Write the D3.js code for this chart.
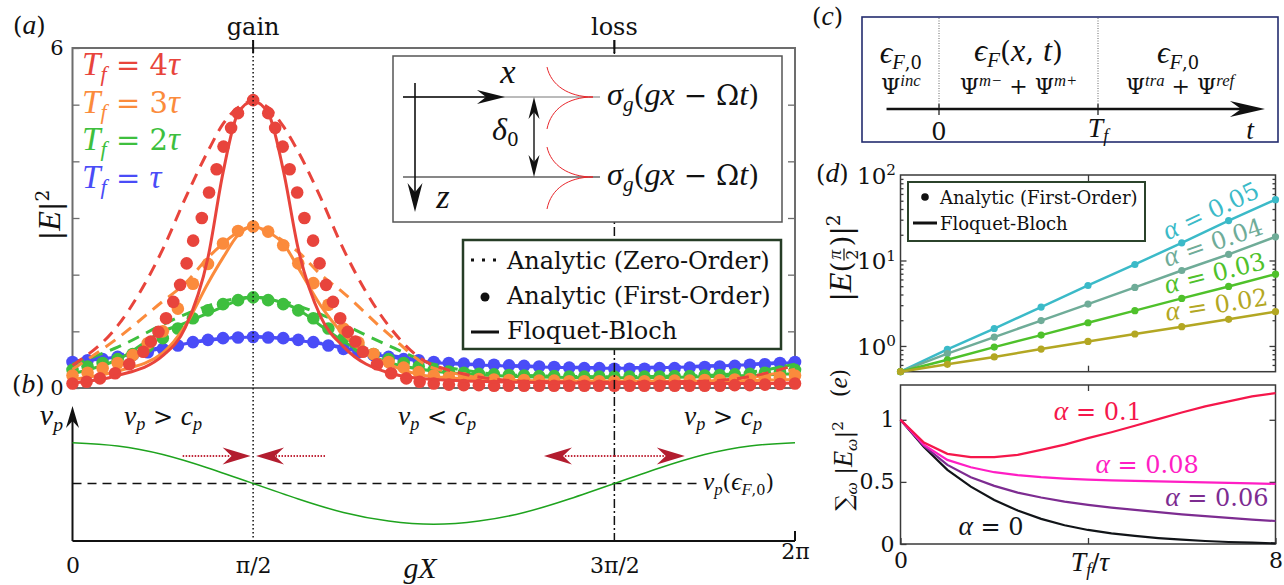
<!DOCTYPE html>
<html>
<head>
<meta charset="utf-8">
<script src="https://cdn.jsdelivr.net/npm/d3@7"></script>
<style>
  body { margin: 0; background: #fff; }
  text { font-family: "DejaVu Serif", "Liberation Serif", serif; }
</style>
</head>
<body>
<svg id="fig" width="1284" height="585"></svg>
<script>
// ---------- panel (a): |E|^2 against gX (gX in units of pi) ----------
const tfNames = ['τ', '2τ', '3τ', '4τ'];
const tfColors = ['#4a4cf7', '#3ebf3e', '#fb8b3c', '#e8443c'];

// sample points of the analytic zero-order (dashed) and Floquet-Bloch (solid) curves
const lineX = [0, 0.125, 0.25, 0.3125, 0.375, 0.4167, 0.4583, 0.5, 0.5417, 0.5833, 0.625, 0.6875, 0.75, 0.875, 1.0, 1.25, 1.5, 1.75, 1.875, 2.0];

const zeroOrder1 = [0.47, 0.58, 0.72, 0.79, 0.85, 0.88, 0.9, 0.91, 0.9, 0.88, 0.85, 0.79, 0.72, 0.58, 0.47, 0.39, 0.36, 0.39, 0.42, 0.47];
const zeroOrder2 = [0.42, 0.72, 1.12, 1.3, 1.45, 1.53, 1.58, 1.6, 1.58, 1.53, 1.45, 1.3, 1.12, 0.75, 0.42, 0.22, 0.2, 0.22, 0.28, 0.42];
const zeroOrder3 = [0.33, 0.88, 1.53, 1.85, 2.3, 2.55, 2.75, 2.85, 2.75, 2.6, 2.4, 2.0, 1.68, 0.95, 0.35, 0.12, 0.1, 0.12, 0.18, 0.33];
const zeroOrder4 = [0.4, 1.1, 2.45, 3.35, 4.18, 4.66, 4.95, 5.06, 4.95, 4.62, 4.17, 3.35, 2.45, 1.1, 0.4, 0.12, 0.1, 0.12, 0.2, 0.4];

const floquet1 = [0.45, 0.55, 0.7, 0.78, 0.84, 0.87, 0.89, 0.9, 0.89, 0.87, 0.84, 0.78, 0.7, 0.55, 0.45, 0.38, 0.35, 0.38, 0.41, 0.45];
const floquet2 = [0.25, 0.5, 1.0, 1.15, 1.32, 1.43, 1.55, 1.6, 1.57, 1.5, 1.38, 1.1, 0.82, 0.45, 0.3, 0.2, 0.18, 0.2, 0.22, 0.25];
const floquet3 = [0.15, 0.3, 0.62, 1.1, 1.85, 2.3, 2.7, 2.85, 2.75, 2.55, 2.12, 1.45, 0.95, 0.42, 0.2, 0.13, 0.12, 0.12, 0.13, 0.15];
const floquet4 = [0.09, 0.22, 0.57, 1.07, 2.3, 3.8, 4.85, 5.06, 4.85, 3.85, 2.45, 1.25, 0.73, 0.27, 0.15, 0.1, 0.08, 0.08, 0.08, 0.09];

// first-order analytic points, one every pi/24
const dotX = d3.range(49).map(k => k / 24);
const dots1 = [0.46, 0.49, 0.51, 0.55, 0.58, 0.63, 0.69, 0.75, 0.81, 0.85, 0.88, 0.89, 0.9,
  0.89, 0.88, 0.85, 0.81, 0.75, 0.69, 0.63, 0.58, 0.55, 0.51, 0.49, 0.46,
  0.44, 0.43, 0.42, 0.41, 0.4, 0.39, 0.38, 0.37, 0.36, 0.35, 0.35, 0.34, 0.34, 0.34, 0.35, 0.35, 0.36, 0.37, 0.38, 0.39, 0.41, 0.42, 0.44, 0.46];
const dots2 = [0.32, 0.38, 0.44, 0.51, 0.6, 0.73, 0.88, 1.05, 1.23, 1.37, 1.48, 1.55, 1.6,
  1.55, 1.48, 1.37, 1.23, 1.05, 0.88, 0.73, 0.6, 0.51, 0.44, 0.38, 0.32,
  0.29, 0.27, 0.25, 0.24, 0.23, 0.22, 0.21, 0.21, 0.2, 0.2, 0.2, 0.2, 0.2, 0.2, 0.2, 0.21, 0.21, 0.22, 0.23, 0.24, 0.25, 0.27, 0.29, 0.32];
const dots3 = [0.22, 0.27, 0.35, 0.44, 0.58, 0.79, 1.0, 1.4, 1.84, 2.19, 2.55, 2.77, 2.85,
  2.76, 2.52, 2.2, 1.85, 1.47, 1.05, 0.8, 0.6, 0.46, 0.36, 0.28, 0.22,
  0.19, 0.17, 0.16, 0.15, 0.14, 0.14, 0.13, 0.13, 0.12, 0.12, 0.12, 0.12, 0.12, 0.12, 0.12, 0.13, 0.13, 0.14, 0.14, 0.15, 0.16, 0.17, 0.19, 0.22];
// Tf = 4tau: denser points on the steep flanks
const dots4 = [[0, 0.08], [0.039, 0.11], [0.076, 0.17], [0.118, 0.26], [0.157, 0.42], [0.196, 0.64], [0.217, 0.82],
  [0.238, 0.99], [0.259, 1.23], [0.279, 1.52], [0.298, 1.82], [0.316, 2.2], [0.334, 2.6], [0.358, 3.0], [0.378, 3.45],
  [0.399, 3.86], [0.418, 4.26], [0.439, 4.59], [0.458, 4.85], [0.5, 5.08], [0.542, 4.85], [0.561, 4.59], [0.582, 4.26],
  [0.601, 3.86], [0.622, 3.45], [0.642, 3.0], [0.666, 2.6], [0.684, 2.2], [0.702, 1.82], [0.721, 1.52], [0.741, 1.23],
  [0.762, 0.99], [0.783, 0.82], [0.804, 0.64], [0.843, 0.42], [0.882, 0.26], [0.924, 0.17], [0.961, 0.11], [1.0, 0.08],
  [1.042, 0.06], [1.083, 0.05], [1.125, 0.05], [1.167, 0.04], [1.208, 0.04], [1.25, 0.04], [1.292, 0.04], [1.333, 0.04],
  [1.375, 0.04], [1.417, 0.04], [1.458, 0.04], [1.5, 0.04], [1.542, 0.04], [1.583, 0.04], [1.625, 0.04], [1.667, 0.04],
  [1.708, 0.04], [1.75, 0.04], [1.792, 0.04], [1.833, 0.05], [1.875, 0.05], [1.917, 0.06], [1.958, 0.07], [2.0, 0.08]];

// ---------- panel (b): phase velocity ----------
const bX = [0, 0.125, 0.25, 0.375, 0.5, 0.625, 0.75, 0.875, 1, 1.125, 1.25, 1.375, 1.5, 1.625, 1.75, 1.875, 2];
const vpValues = [1, 0.92, 0.71, 0.38, 0, -0.38, -0.71, -0.92, -1, -0.92, -0.71, -0.38, 0, 0.38, 0.71, 0.92, 1];
const bTicks = [0, 0.5, 1.5, 2];
const bTickLabels = ['0', 'π/2', '3π/2', '2π'];
const bArrows = [[0.305, 0.493], [0.699, 0.508], [1.5, 1.305], [1.5, 1.695]];

// ---------- panel (d): |E(pi/2)|^2 vs Tf/tau ----------
const dT = [0, 1, 2, 3, 4, 5, 6, 7, 8];
const dAlpha = ['0.05', '0.04', '0.03', '0.02'];
const dColors = ['#3bbac8', '#6fac98', '#4fc12b', '#b3a723'];
const d05 = [0.5, 0.91, 1.6, 2.85, 5.1, 8.98, 16.1, 29.3, 51.5];
const d04 = [0.5, 0.815, 1.27, 1.98, 3.09, 4.84, 7.64, 11.8, 18.9];
const d03 = [0.5, 0.69, 0.97, 1.34, 1.87, 2.59, 3.6, 4.97, 6.92];
const d02 = [0.5, 0.61, 0.745, 0.92, 1.13, 1.38, 1.68, 2.05, 2.52];

// ---------- panel (e): total spectral energy vs Tf/tau ----------
const eT = [0, 0.5, 1, 1.5, 2, 2.5, 3, 3.5, 4, 4.5, 5, 5.5, 6, 6.5, 7, 7.5, 8];
const eAlpha = ['0.1', '0.08', '0.06', '0'];
const eColors = ['#f5174b', '#ff1ec4', '#7d2c91', '#111418'];
const e10 = [1, 0.817, 0.726, 0.7, 0.699, 0.718, 0.758, 0.8, 0.852, 0.9, 0.952, 1.005, 1.059, 1.108, 1.148, 1.188, 1.215];
const e08 = [1, 0.798, 0.677, 0.618, 0.578, 0.554, 0.538, 0.527, 0.519, 0.513, 0.508, 0.504, 0.5, 0.496, 0.492, 0.488, 0.484];
const e06 = [1, 0.79, 0.637, 0.538, 0.468, 0.414, 0.374, 0.341, 0.315, 0.293, 0.274, 0.256, 0.239, 0.224, 0.21, 0.197, 0.185];
const e00 = [1, 0.78, 0.597, 0.462, 0.355, 0.269, 0.202, 0.151, 0.113, 0.086, 0.065, 0.048, 0.035, 0.024, 0.016, 0.011, 0.005];
// where the alpha labels sit, in data units (Tf/tau, value)
const eLabelAt = [[4.21, 1.0], [5.26, 0.571], [6.75, 0.306], [1.93, 0.072]];

const svg = d3.select('#fig');
const ITALIC = '"Liberation Serif", "DejaVu Serif", serif';

// text with italic / sub / superscript pieces: [string, flags] where flags has i, _ or ^
function mtext(sel, x, y, parts, size, anchor) {
  const t = sel.append('text').attr('x', x).attr('y', y)
    .attr('font-size', size).attr('text-anchor', anchor || 'start').attr('fill', '#111');
  let cur = 0;
  parts.forEach(p => {
    const f = p[1] || '';
    const lvl = f.includes('_') ? 0.22 * size : f.includes('^') ? -0.38 * size : 0;
    let fs = lvl ? 0.66 * size : size;
    const ts = t.append('tspan').text(p[0]).attr('dy', lvl - cur);
    if (f.includes('i')) {
      ts.attr('font-style', 'italic').attr('font-family', ITALIC);
      fs *= 1.15;
    }
    if (fs !== size) ts.attr('font-size', fs);
    cur = lvl;
  });
  return t;
}

// stealth-like arrow head, tip at (x,y), pointing along ang degrees
function head(g, x, y, ang, len, half, color) {
  g.append('path')
    .attr('d', `M0,0 L${-len},${-half} L${-len * 0.68},0 L${-len},${half} Z`)
    .attr('transform', `translate(${x},${y}) rotate(${ang})`)
    .attr('fill', color);
}

function styleAxis(a, color) {
  a.select('.domain').remove();
  a.selectAll('line').attr('stroke', color).attr('stroke-width', 1.3);
  a.selectAll('text').attr('font-size', 21).attr('fill', '#111');
}

// ================= (a) =================
const xA = d3.scaleLinear().domain([0, 2]).range([72.5, 795]);
const yA = d3.scaleLinear().domain([0, 6]).range([388, 48]);
const gA = svg.append('g');

gA.append('rect')
  .attr('x', xA(0)).attr('y', yA(6))
  .attr('width', xA(2) - xA(0)).attr('height', yA(0) - yA(6))
  .attr('fill', 'none').attr('stroke', '#6d6d6d').attr('stroke-width', 2);

const aLeft = gA.append('g').attr('transform', `translate(${xA(0)},0)`)
  .call(d3.axisLeft(yA).tickValues(d3.range(7)).tickSize(-7).tickPadding(9)
    .tickFormat(d => (d === 0 || d === 6) ? d : ''));
const aRight = gA.append('g').attr('transform', `translate(${xA(2)},0)`)
  .call(d3.axisRight(yA).tickValues(d3.range(1, 6)).tickSize(-7).tickFormat(''));
styleAxis(aLeft, '#6d6d6d');
styleAxis(aRight, '#6d6d6d');

const seriesA = [
  { color: tfColors[0], zero: zeroOrder1, fb: floquet1, dots: d3.zip(dotX, dots1) },
  { color: tfColors[1], zero: zeroOrder2, fb: floquet2, dots: d3.zip(dotX, dots2) },
  { color: tfColors[2], zero: zeroOrder3, fb: floquet3, dots: d3.zip(dotX, dots3) },
  { color: tfColors[3], zero: zeroOrder4, fb: floquet4, dots: dots4 }
];
const lineA = d3.line().x(d => xA(d[0])).y(d => yA(d[1])).curve(d3.curveMonotoneX);

seriesA.forEach(s => {
  gA.append('path').datum(d3.zip(lineX, s.zero))
    .attr('d', lineA).attr('fill', 'none')
    .attr('stroke', s.color).attr('stroke-width', 3).attr('stroke-dasharray', '12,8');
  gA.append('g').selectAll('circle').data(s.dots).join('circle')
    .attr('cx', d => xA(d[0])).attr('cy', d => yA(d[1])).attr('r', 6.3)
    .attr('fill', s.color);
  gA.append('path').datum(d3.zip(lineX, s.fb))
    .attr('d', lineA).attr('fill', 'none')
    .attr('stroke', s.color).attr('stroke-width', 3);
});

// gain / loss markers running through (a) and (b)
const markX = [0.5, 1.5];
const markNames = ['gain', 'loss'];
markX.forEach((m, i) => {
  gA.append('line').attr('x1', xA(m)).attr('x2', xA(m)).attr('y1', 40).attr('y2', 541)
    .attr('stroke', '#111').attr('stroke-width', 1.5)
    .attr('stroke-dasharray', i === 0 ? '1.5,2.5' : '9,3,2,3');
  gA.append('line').attr('x1', xA(m)).attr('x2', xA(m)).attr('y1', 40).attr('y2', 53)
    .attr('stroke', '#111').attr('stroke-width', 2);
  mtext(gA, xA(m), 35, [[markNames[i]]], 24, 'middle');
});

// inset sketch
const ins = gA.append('g');
ins.append('rect').attr('x', 393).attr('y', 56).attr('width', 389).attr('height', 166)
  .attr('fill', '#fff').attr('stroke', '#555').attr('stroke-width', 1.5);
ins.append('line').attr('x1', 403).attr('x2', 600).attr('y1', 97).attr('y2', 97).attr('stroke', '#777').attr('stroke-width', 1);
ins.append('line').attr('x1', 403).attr('x2', 490).attr('y1', 97).attr('y2', 97).attr('stroke', '#111').attr('stroke-width', 1.6);
head(ins, 505, 97, 0, 28, 7, '#111');
ins.append('line').attr('x1', 403).attr('x2', 600).attr('y1', 177).attr('y2', 177).attr('stroke', '#111').attr('stroke-width', 1.2);
ins.append('line').attr('x1', 415).attr('x2', 415).attr('y1', 83).attr('y2', 195).attr('stroke', '#111').attr('stroke-width', 1.6);
head(ins, 415, 212, 90, 29, 7.5, '#111');
ins.append('line').attr('x1', 534).attr('x2', 534).attr('y1', 110).attr('y2', 165).attr('stroke', '#111').attr('stroke-width', 1.4);
head(ins, 534, 97, -90, 22, 5.5, '#111');
head(ins, 534, 177, 90, 22, 5.5, '#111');
[97, 177].forEach(c => {
  ins.append('path').attr('d', `M547,${c - 30} C551,${c - 12} 568,${c} 593,${c}`)
    .attr('fill', 'none').attr('stroke', '#e8262b').attr('stroke-width', 1);
  ins.append('path').attr('d', `M547,${c + 32} C551,${c + 12} 568,${c} 593,${c}`)
    .attr('fill', 'none').attr('stroke', '#e8262b').attr('stroke-width', 1);
  mtext(ins, 607, c + 8, [['σ', 'i'], ['g', '_i'], ['('], ['gx', 'i'], [' − '], ['Ω'], ['t', 'i'], [')']], 28);
});
mtext(ins, 508, 83, [['x', 'i']], 30, 'middle');
mtext(ins, 443, 208, [['z', 'i']], 30, 'middle');
mtext(ins, 492, 140, [['δ', 'i'], ['0', '_']], 28);

// legend of (a)
const legA = gA.append('g');
legA.append('rect').attr('x', 463).attr('y', 240).attr('width', 318).attr('height', 109)
  .attr('fill', '#fff').attr('stroke', '#263d26').attr('stroke-width', 2.5);
legA.append('line').attr('x1', 471).attr('x2', 499).attr('y1', 260).attr('y2', 260)
  .attr('stroke', '#111').attr('stroke-width', 3).attr('stroke-dasharray', '3,8');
legA.append('circle').attr('cx', 485).attr('cy', 297).attr('r', 4.5).attr('fill', '#111');
legA.append('line').attr('x1', 471).attr('x2', 499).attr('y1', 332).attr('y2', 332)
  .attr('stroke', '#111').attr('stroke-width', 3);
['Analytic (Zero-Order)', 'Analytic (First-Order)', 'Floquet-Bloch'].forEach((t, i) => {
  mtext(legA, 507, [269, 304, 339][i], [[t]], 24);
});

// Tf labels
[3, 2, 1, 0].forEach((k, r) => {
  const name = tfNames[k];
  const parts = [['T', 'i'], ['f', '_i'], [' = ']];
  if (name.length > 1) parts.push([name[0]]);
  parts.push(['τ', 'i']);
  mtext(gA, 82, 75 + r * 37.5, parts, 29).attr('fill', tfColors[k]);
});

const yLabA = gA.append('g').attr('transform', 'translate(50,215) rotate(-90)');
mtext(yLabA, 0, 10, [['|'], ['E', 'i'], ['|'], ['2', '^']], 28, 'middle');
mtext(svg, 13, 34, [['('], ['a', 'i'], [')']], 24);
mtext(svg, 12, 393, [['('], ['b', 'i'], [')']], 24);

// ================= (b) =================
const yB = d3.scaleLinear().domain([-1, 1]).range([524.3, 442.7]);
const gB = svg.append('g');
const bBase = 541;
gB.append('line').attr('x1', xA(0)).attr('x2', xA(2)).attr('y1', bBase).attr('y2', bBase)
  .attr('stroke', '#111').attr('stroke-width', 2);
gB.append('line').attr('x1', xA(2)).attr('x2', xA(2)).attr('y1', bBase).attr('y2', bBase - 10)
  .attr('stroke', '#111').attr('stroke-width', 2);
gB.append('line').attr('x1', xA(0)).attr('x2', xA(0)).attr('y1', bBase).attr('y2', 420)
  .attr('stroke', '#111').attr('stroke-width', 2);
head(gB, xA(0), 406, -90, 22, 6.5, '#111');

gB.append('line').attr('x1', xA(0)).attr('x2', xA(1.74)).attr('y1', yB(0)).attr('y2', yB(0))
  .attr('stroke', '#111').attr('stroke-width', 1.5).attr('stroke-dasharray', '9,6');
gB.append('path').datum(d3.zip(bX, vpValues))
  .attr('d', d3.line().x(d => xA(d[0])).y(d => yB(d[1])).curve(d3.curveNatural))
  .attr('fill', 'none').attr('stroke', '#1ea31e').attr('stroke-width', 1.5);

bArrows.forEach(([from, to]) => {
  const dir = to > from ? 1 : -1;
  gB.append('line').attr('x1', xA(from)).attr('x2', xA(to) - dir * 20).attr('y1', 456).attr('y2', 456)
    .attr('stroke', '#c0283a').attr('stroke-width', 2).attr('stroke-dasharray', '1.5,1.5');
  head(gB, xA(to), 456, dir > 0 ? 0 : 180, 28, 8.5, '#b31d2f');
});

const bAxis = gB.append('g').attr('transform', `translate(0,${bBase})`)
  .call(d3.axisBottom(xA).tickValues(bTicks).tickSize(0).tickPadding(16)
    .tickFormat((d, i) => bTickLabels[i]));
bAxis.select('.domain').remove();
bAxis.selectAll('text').attr('font-size', 22).attr('fill', '#111');
bAxis.selectAll('.tick').filter(d => d === 2).select('text').attr('y', 2);

mtext(gB, 420, 578, [['gX', 'i']], 26, 'middle');
mtext(gB, 63, 425, [['v', 'i'], ['p', '_i']], 26, 'end');
mtext(gB, 163, 425, [['v', 'i'], ['p', '_i'], [' > '], ['c', 'i'], ['p', '_i']], 24, 'middle');
mtext(gB, 437, 425, [['v', 'i'], ['p', '_i'], [' < '], ['c', 'i'], ['p', '_i']], 24, 'middle');
mtext(gB, 723, 425, [['v', 'i'], ['p', '_i'], [' > '], ['c', 'i'], ['p', '_i']], 24, 'middle');
mtext(gB, 703, 490, [['v', 'i'], ['p', '_i'], ['('], ['ϵ', 'i'], ['F', '_i'], [',0', '_'], [')']], 22);

// ================= (c) =================
const gC = svg.append('g');
const xC = d3.scaleLinear().domain([0, 1]).range([939, 1098]);
gC.append('rect').attr('x', 862).attr('y', 17).attr('width', 416).attr('height', 125)
  .attr('fill', 'none').attr('stroke', '#232c6e').attr('stroke-width', 1.6);
[0, 1].forEach(t => {
  gC.append('line').attr('x1', xC(t)).attr('x2', xC(t)).attr('y1', 18).attr('y2', 109)
    .attr('stroke', '#666').attr('stroke-width', 1).attr('stroke-dasharray', '1,1.5');
  gC.append('line').attr('x1', xC(t)).attr('x2', xC(t)).attr('y1', 104).attr('y2', 115)
    .attr('stroke', '#111').attr('stroke-width', 1.2);
});
gC.append('line').attr('x1', xC(-0.33)).attr('x2', xC(1.9)).attr('y1', 109).attr('y2', 109)
  .attr('stroke', '#111').attr('stroke-width', 2.5);
head(gC, xC(2.05), 109, 0, 35, 8, '#111');
mtext(gC, xC(0), 140, [['0']], 24, 'middle');
mtext(gC, xC(1), 137, [['T', 'i'], ['f', '_i']], 24, 'middle');
mtext(gC, 1250, 139, [['t', 'i']], 24, 'middle');
mtext(gC, xC(-0.24), 63, [['ϵ', 'i'], ['F', '_i'], [',0', '_']], 27, 'middle');
mtext(gC, xC(-0.24), 94, [['Ψ'], ['inc', '^i']], 22, 'middle');
mtext(gC, xC(0.5), 61, [['ϵ', 'i'], ['F', '_i'], ['('], ['x', 'i'], [', '], ['t', 'i'], [')']], 28, 'middle');
mtext(gC, xC(0.5), 94, [['Ψ'], ['m−', '^i'], [' + Ψ'], ['m+', '^i']], 22, 'middle');
mtext(gC, 1178, 63, [['ϵ', 'i'], ['F', '_i'], [',0', '_']], 27, 'middle');
mtext(gC, 1180, 94, [['Ψ'], ['tra', '^i'], [' + Ψ'], ['ref', '^i']], 22, 'middle');
mtext(svg, 812, 25, [['('], ['c', 'i'], [')']], 24);

// ================= (d) =================
const gD = svg.append('g');
const xD = d3.scaleLinear().domain([0, 8]).range([900.5, 1275.5]);
const yD = d3.scaleLog().domain([0.5, 100]).range([371.7, 175]);
gD.append('rect').attr('x', xD(0)).attr('y', yD(100)).attr('width', xD(8) - xD(0)).attr('height', yD(0.5) - yD(100))
  .attr('fill', 'none').attr('stroke', '#3a3a3a').attr('stroke-width', 1.5);
const minorD = [0.6, 0.7, 0.8, 0.9, 2, 3, 4, 5, 6, 7, 8, 9, 20, 30, 40, 50, 60, 70, 80, 90];
[
  [d3.axisLeft(yD).tickValues([1, 10]).tickSize(-6), xD(0), 0],
  [d3.axisLeft(yD).tickValues(minorD).tickSize(-3), xD(0), 0],
  [d3.axisRight(yD).tickValues([1, 10]).tickSize(-6), xD(8), 0],
  [d3.axisRight(yD).tickValues(minorD).tickSize(-3), xD(8), 0],
  [d3.axisBottom(xD).tickValues([4]).tickSize(-6), 0, yD(0.5)],
  [d3.axisTop(xD).tickValues([4]).tickSize(-6), 0, yD(100)]
].forEach(([ax, tx, ty]) => {
  const a = gD.append('g').attr('transform', `translate(${tx},${ty})`).call(ax.tickFormat(''));
  styleAxis(a, '#3a3a3a');
});
[[100, '2'], [10, '1'], [1, '0']].forEach(([v, p]) => {
  mtext(gD, 896, yD(v) + 9, [['10'], [p, '^']], 23, 'end');
});

const dSeries = [d05, d04, d03, d02];
const lineD = d3.line().x((d, i) => xD(dT[i])).y(d => yD(d));
dSeries.forEach((vals, s) => {
  gD.append('path').datum(vals).attr('d', lineD).attr('fill', 'none')
    .attr('stroke', dColors[s]).attr('stroke-width', 2.5);
  gD.append('g').selectAll('circle').data(vals).join('circle')
    .attr('cx', (d, i) => xD(dT[i])).attr('cy', d => yD(d)).attr('r', 3.6)
    .attr('fill', dColors[s]);
  const mx = (xD(dT[6]) + xD(dT[7])) / 2, my = (yD(vals[6]) + yD(vals[7])) / 2;
  const ang = Math.atan2(yD(vals[7]) - yD(vals[6]), xD(dT[7]) - xD(dT[6])) * 180 / Math.PI;
  const lg = gD.append('g').attr('transform', `translate(${mx},${my}) rotate(${ang})`);
  mtext(lg, 14, -8, [['α', 'i'], [' = ' + dAlpha[s]]], 24, 'middle').attr('fill', dColors[s]);
});

const legD = gD.append('g');
legD.append('rect').attr('x', 908).attr('y', 182).attr('width', 237).attr('height', 59)
  .attr('fill', '#fff').attr('stroke', '#2b432b').attr('stroke-width', 2);
legD.append('circle').attr('cx', 925).attr('cy', 197).attr('r', 3.8).attr('fill', '#111');
legD.append('line').attr('x1', 913).attr('x2', 937).attr('y1', 223).attr('y2', 223)
  .attr('stroke', '#111').attr('stroke-width', 3);
mtext(legD, 940, 204, [['Analytic (First-Order)']], 18);
mtext(legD, 940, 230, [['Floquet-Bloch']], 18);

const yLabD = gD.append('g');
const t1 = mtext(yLabD, 0, 0, [['|'], ['E', 'i'], ['(']], 28);
const w1 = t1.node().getComputedTextLength();
mtext(yLabD, w1 + 7, -10, [['π', 'i']], 16, 'middle');
yLabD.append('line').attr('x1', w1 + 1).attr('x2', w1 + 13).attr('y1', -7).attr('y2', -7)
  .attr('stroke', '#111').attr('stroke-width', 1.2);
mtext(yLabD, w1 + 7, 7, [['2']], 16, 'middle');
const t2 = mtext(yLabD, w1 + 15, 0, [[')|'], ['2', '^']], 28);
const wTot = w1 + 15 + t2.node().getComputedTextLength();
yLabD.attr('transform', `translate(851,${258 + wTot / 2}) rotate(-90)`);
mtext(svg, 816, 182, [['('], ['d', 'i'], [')']], 24);

// ================= (e) =================
const gE = svg.append('g');
const xE = xD.copy();
const yE = d3.scaleLinear().domain([0, 1.28]).range([544, 385]);
gE.append('rect').attr('x', xE(0)).attr('y', yE(1.28)).attr('width', xE(8) - xE(0)).attr('height', yE(0) - yE(1.28))
  .attr('fill', 'none').attr('stroke', '#3a3a3a').attr('stroke-width', 1.5);
const eLeft = gE.append('g').attr('transform', `translate(${xE(0)},0)`)
  .call(d3.axisLeft(yE).tickValues([0, 0.5, 1]).tickSize(-6).tickPadding(6).tickFormat(d => d));
const eRight = gE.append('g').attr('transform', `translate(${xE(8)},0)`)
  .call(d3.axisRight(yE).tickValues([0.5, 1]).tickSize(-6).tickFormat(''));
const eBottom = gE.append('g').attr('transform', `translate(0,${yE(0)})`)
  .call(d3.axisBottom(xE).tickValues([0, 4, 8]).tickSize(-6).tickPadding(8).tickFormat(d => d === 4 ? '' : d));
const eTop = gE.append('g').attr('transform', `translate(0,${yE(1.28)})`)
  .call(d3.axisTop(xE).tickValues([4]).tickSize(-6).tickFormat(''));
[eLeft, eRight, eBottom, eTop].forEach(a => styleAxis(a, '#3a3a3a'));
eLeft.selectAll('text').attr('font-size', 22);
eBottom.selectAll('text').attr('font-size', 22);

const eSeries = [e10, e08, e06, e00];
const lineE = d3.line().x((d, i) => xE(eT[i])).y(d => yE(d));
[3, 2, 1, 0].forEach(s => {
  gE.append('path').datum(eSeries[s]).attr('d', lineE).attr('fill', 'none')
    .attr('stroke', eColors[s]).attr('stroke-width', 2.2);
});
eSeries.forEach((vals, s) => {
  const [lx, ly] = eLabelAt[s];
  mtext(gE, xE(lx), yE(ly), [['α', 'i'], [' = ' + eAlpha[s]]], 24, 'middle').attr('fill', eColors[s]);
});
mtext(gE, 1090, 571, [['T', 'i'], ['f', '_i'], ['/'], ['τ', 'i']], 24, 'middle');

const yLabE = gE.append('g').attr('transform', 'translate(852,466) rotate(-90)');
mtext(yLabE, 0, 0, [['∑'], ['ω', '_i'], [' |'], ['E', 'i'], ['ω', '_i'], ['|'], ['2', '^']], 23, 'middle');
const eTag = gE.append('g').attr('transform', 'translate(847,383) rotate(-90)');
mtext(eTag, 0, 0, [['('], ['e', 'i'], [')']], 22, 'middle');
</script>
</body>
</html>
